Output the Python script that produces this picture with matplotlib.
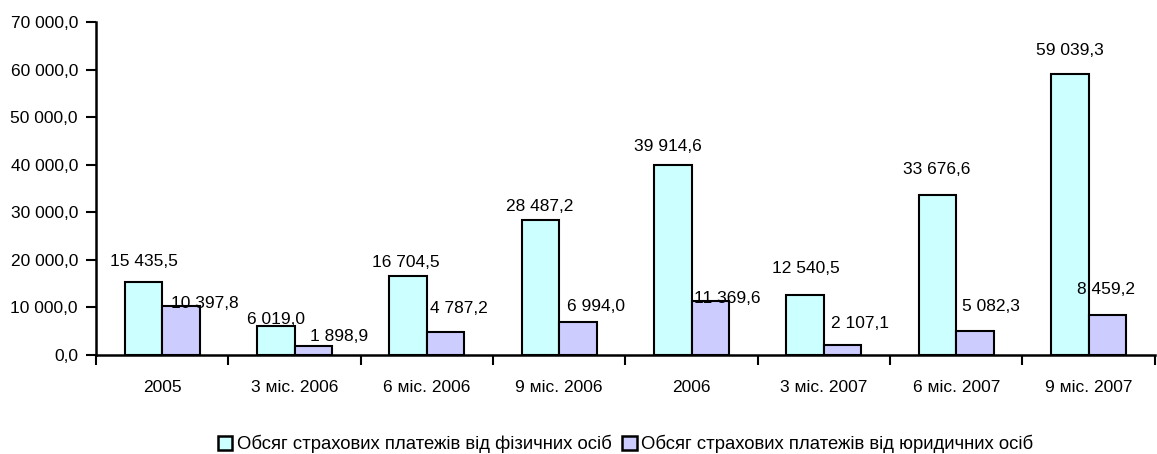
import numpy as np
import matplotlib.pyplot as plt
from matplotlib.patches import Patch
from matplotlib.ticker import FixedLocator, FuncFormatter

plt.rcParams['font.family'] = ['Liberation Sans', 'DejaVu Sans']
plt.rcParams['font.size'] = 12.5

# дані
categories = ['2005', '3 міс. 2006', '6 міс. 2006', '9 міс. 2006',
              '2006', '3 міс. 2007', '6 міс. 2007', '9 міс. 2007']
fiz = [15435.5, 6019.0, 16704.5, 28487.2, 39914.6, 12540.5, 33676.6, 59039.3]
yur = [10397.8, 1898.9, 4787.2, 6994.0, 11369.6, 2107.1, 5082.3, 8459.2]
series_names = ['Обсяг страхових платежів від фізичних осіб',
                'Обсяг страхових платежів від юридичних осіб']

# зсуви підписів (пікселі) — як у вихідній діаграмі
fiz_off = [(0, 20), (0, 7), (-2, 13), (-1, 13), (-5, 19), (1, 27), (-1, 25), (0, 24)]
yur_off = [(24, 2), (26, 9), (13, 24), (18, 15), (17, 2), (17, 22), (16, 24), (-1, 25)]


def fmt(v, pos=None):
    s = f'{v:,.1f}'.replace(',', ' ').replace('.', ',')
    return s


fig = plt.figure(figsize=(11.57, 4.54), dpi=100)
ax = fig.add_axes([0.083, 0.218, 0.915, 0.7335])

x = np.arange(len(categories))
w = 0.283
b1 = ax.bar(x - w / 2, fiz, w, color='#CCFFFF', edgecolor='black', linewidth=1.5)
b2 = ax.bar(x + w / 2, yur, w, color='#CCCCFF', edgecolor='black', linewidth=1.5)

for bars, offs in ((b1, fiz_off), (b2, yur_off)):
    for bar, (dx, dy) in zip(bars, offs):
        ax.annotate(fmt(bar.get_height()),
                    (bar.get_x() + bar.get_width() / 2, bar.get_height()),
                    xytext=(dx, dy), textcoords='offset pixels',
                    ha='center', va='center', fontsize=12.5)

ax.set_xlim(-0.5, len(categories) - 0.5)
ax.set_ylim(0, 70000)
ax.set_yticks(np.arange(0, 70001, 10000))
ax.yaxis.set_major_formatter(FuncFormatter(fmt))

ax.xaxis.set_major_locator(FixedLocator(np.arange(-0.5, len(categories), 1)))
ax.xaxis.set_minor_locator(FixedLocator(x))
ax.set_xticklabels([])
ax.set_xticklabels(categories, minor=True)
ax.tick_params(axis='x', which='major', length=7, width=1.5, direction='out')
ax.tick_params(axis='x', which='minor', length=0, pad=18)
ax.tick_params(axis='y', length=7, width=1.5, direction='out', pad=6)

for s in ['top', 'right']:
    ax.spines[s].set_visible(False)
for s in ['left', 'bottom']:
    ax.spines[s].set_linewidth(1.8)

handles = [Patch(facecolor='#CCFFFF', edgecolor='black', linewidth=1.8),
           Patch(facecolor='#CCCCFF', edgecolor='black', linewidth=1.8)]
fig.legend(handles, series_names, loc='center', bbox_to_anchor=(0.5406, 0.022),
           ncol=2, frameon=False, handlelength=0.8, handleheight=0.8,
           handletextpad=0.25, columnspacing=0.55, borderaxespad=0,
           borderpad=0, fontsize=13.3)

plt.savefig('out.png', dpi=100)
